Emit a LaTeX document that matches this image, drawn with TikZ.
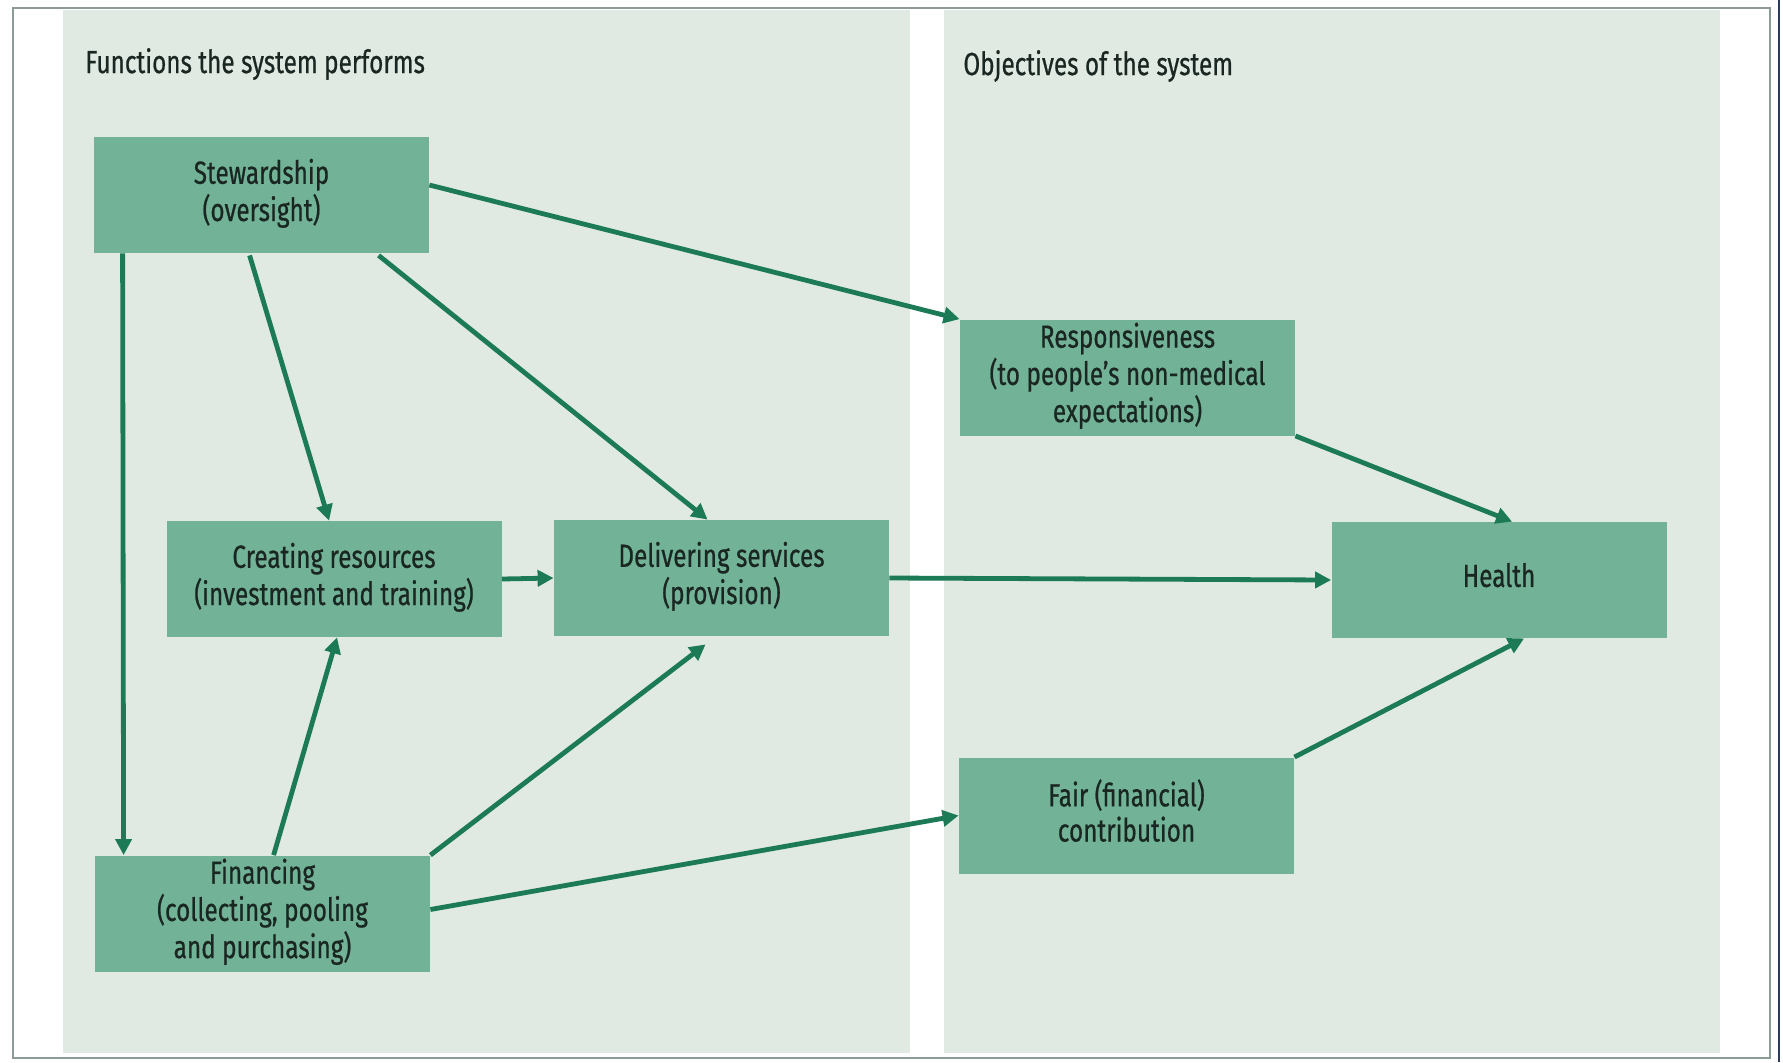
\documentclass[tikz,border=0pt]{standalone}
\usepackage{fontspec}
\setmainfont{Fira Sans}[FakeStretch=0.76, FakeBold=0.6]
\usetikzlibrary{calc,arrows.meta}
\definecolor{panel}{HTML}{E0EAE3}
\definecolor{boxfill}{HTML}{72B398}
\definecolor{arrowc}{HTML}{1C7A57}
\definecolor{txt}{HTML}{1A2621}
\definecolor{frame}{HTML}{8C9A98}
\definecolor{edge}{HTML}{2A3A5A}
\newcommand\bxtext[1]{\raisebox{4pt}{\begin{tabular}{@{}c@{}}#1\end{tabular}}}
\tikzset{
  box/.style={fill=boxfill, draw=none, minimum width=167.5pt, minimum height=58pt,
    inner sep=0pt, align=center, text=txt,
    font=\fontsize{16pt}{17pt}\selectfont},
  title/.style={anchor=west, inner sep=0pt, text=txt, font=\fontsize{16pt}{18pt}\selectfont},
  arr/.style={draw=arrowc, line width=2.4pt, -{Triangle[length=8pt,width=8pt]}}
}
\begin{document}
\begin{tikzpicture}[x=0.5pt,y=-0.5pt]
\useasboundingbox (0,0) rectangle (1783,1062);
\fill[white] (0,0) rectangle (1783,1062);
\fill[panel] (63,10) rectangle (910,1053);
\fill[panel] (944,10) rectangle (1720,1053);
\draw[frame, line width=0.9pt] (13,8) rectangle (1770,1058);
\draw[edge, line width=1pt] (1779,0) -- (1779,1062);

\node[title] (t1) at (85,64) {Functions the system performs};
\node[title] (t2) at (963,66) {Objectives of the system};

\node[box] (stew) at (261.5,195) {\bxtext{Stewardship\\(oversight)}};
\node[box] (create) at (334,579) {\bxtext{Creating resources\\(investment and training)}};
\node[box] (deliv) at (721.5,578) {\bxtext{Delivering services\\(provision)}};
\node[box] (fin) at (262.5,913.5) {\bxtext{Financing\\(collecting, pooling\\and purchasing)}};
\node[box] (resp) at (1127.5,377.5) {\bxtext{Responsiveness\\(to people’s non-medical\\expectations)}};
\node[box] (health) at (1499,580) {\bxtext{Health}};
\node[box] (fair) at (1126.5,815.5) {\bxtext{Fair (financial)\\contribution}};

\draw[arr] ($(stew.east)+(0,-10)$) -- (resp.north west);
\draw[arr] ($(stew.south west)+(156,2)$) -- ($(create.north west)+(163,0)$);
\draw[arr] ($(stew.south west)+(285,2)$) -- ($(deliv.north west)+(154,0)$);
\draw[arr] ($(stew.south west)+(29,0)$) -- ($(fin.north west)+(29,0)$);
\draw[arr] (create.east) -- (deliv.west);
\draw[arr] ($(fin.north west)+(179,0)$) -- ($(create.south west)+(171,0)$);
\draw[arr] (fin.north east) -- ($(deliv.south west)+(152,8)$);
\draw[arr] ($(fin.east)+(0,-4)$) -- (fair.west);
\draw[arr] (deliv.east) -- (health.west);
\draw[arr] (resp.south east) -- ($(health.north west)+(181,0)$);
\draw[arr] (fair.north east) -- ($(health.south west)+(193,0)$);
\end{tikzpicture}
\end{document}
